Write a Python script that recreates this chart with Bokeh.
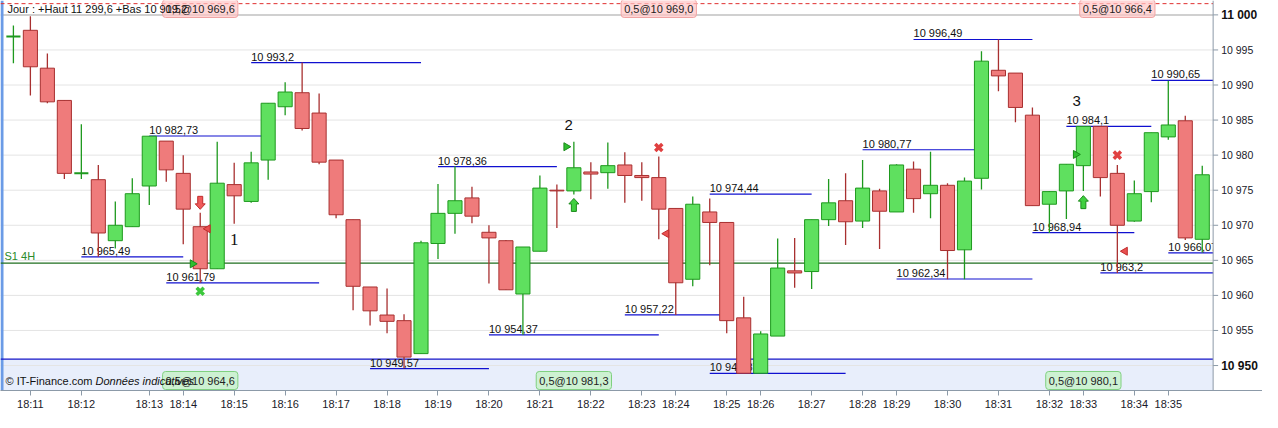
from bokeh.plotting import figure
from bokeh.models import ColumnDataSource, FixedTicker
from bokeh.core.properties import value
from bokeh.embed import file_html
from bokeh.resources import INLINE

# one-tick candles, 18:11 -> 18:35
opens = [10996.9, 10997.8, 10992.4, 10987.8, 10977.4, 10976.5, 10967.8, 10969.8, 10975.6, 10982.0,
         10977.4, 10969.8, 10963.8, 10975.8, 10973.4, 10979.3, 10986.9, 10988.9, 10986.0, 10979.3,
         10970.8, 10961.2, 10957.2, 10956.4, 10951.7, 10967.4, 10971.7, 10973.9, 10969.0, 10967.8,
         10960.2, 10966.3, 10975.0, 10974.9, 10977.6, 10977.5, 10978.6, 10977.1, 10976.8, 10972.4,
         10962.3, 10971.9, 10970.4, 10956.8, 10948.9, 10954.2, 10963.5, 10963.4, 10970.8, 10973.5,
         10970.6, 10974.9, 10971.9, 10978.0, 10974.5, 10975.7, 10966.5, 10976.7, 10992.1, 10991.7,
         10985.7, 10973.0, 10974.9, 10978.5, 10984.1, 10977.4, 10970.6, 10974.8, 10982.6, 10984.9,
         10968.0]
closes = [10996.9, 10992.6, 10987.6, 10977.4, 10977.4, 10968.9, 10970.0, 10974.5, 10982.7, 10977.9,
          10972.3, 10963.8, 10976.0, 10974.2, 10978.9, 10987.4, 10989.0, 10983.8, 10979.0, 10971.5,
          10961.3, 10957.8, 10956.3, 10951.2, 10967.5, 10971.7, 10973.5, 10971.3, 10968.2, 10960.8,
          10966.9, 10975.3, 10974.9, 10978.2, 10977.3, 10978.5, 10977.1, 10976.8, 10972.3, 10961.8,
          10973.0, 10970.4, 10956.4, 10948.9, 10954.5, 10963.9, 10963.2, 10970.8, 10973.2, 10970.5,
          10975.3, 10972.0, 10978.6, 10973.8, 10975.7, 10966.4, 10976.3, 10993.4, 10991.3, 10986.8,
          10972.8, 10974.8, 10978.7, 10984.1, 10976.8, 10970.0, 10974.5, 10983.2, 10984.3, 10968.2,
          10977.2]
highs = [10998.5, 10999.8, 10994.5, 10987.8, 10984.4, 10978.6, 10973.4, 10976.7, 10982.7, 10982.0,
         10980.0, 10971.8, 10981.9, 10978.9, 10980.5, 10987.4, 10990.4, 10993.2, 10988.8, 10979.3,
         10970.8, 10961.2, 10961.0, 10957.3, 10967.8, 10975.9, 10978.4, 10975.5, 10970.0, 10967.9,
         10966.9, 10977.1, 10975.8, 10981.9, 10979.0, 10981.8, 10980.4, 10979.0, 10979.8, 10972.4,
         10974.1, 10973.8, 10970.4, 10959.8, 10954.9, 10968.1, 10968.2, 10970.8, 10976.6, 10977.4,
         10979.3, 10975.2, 10978.7, 10979.1, 10980.5, 10976.0, 10976.8, 10994.8, 10996.5, 10991.7,
         10986.8, 10974.9, 10978.7, 10984.1, 10984.1, 10978.6, 10976.4, 10983.2, 10990.6, 10985.6,
         10978.5]
lows = [10993.1, 10988.5, 10987.4, 10976.6, 10976.6, 10965.5, 10966.7, 10969.8, 10972.9, 10976.2,
        10967.3, 10961.8, 10963.8, 10970.2, 10973.2, 10976.5, 10985.7, 10983.5, 10978.7, 10971.0,
        10957.9, 10955.7, 10954.6, 10949.6, 10951.7, 10965.2, 10968.8, 10970.3, 10961.7, 10960.8,
        10954.4, 10966.3, 10969.6, 10974.4, 10973.7, 10975.2, 10973.2, 10973.5, 10968.0, 10957.2,
        10961.3, 10964.3, 10954.6, 10948.9, 10948.9, 10954.2, 10961.1, 10960.9, 10969.9, 10967.2,
        10969.6, 10966.6, 10971.9, 10971.8, 10971.0, 10962.3, 10962.3, 10975.1, 10989.1, 10984.7,
        10972.8, 10968.9, 10970.9, 10974.9, 10974.1, 10963.2, 10970.5, 10973.3, 10982.2, 10967.9,
        10966.1]

tick_idx = [1, 4, 8, 10, 13, 16, 19, 22, 25, 28, 31, 34, 37, 39, 42, 44, 47, 50, 52, 55, 58, 61, 63, 66, 68]
tick_labels = ["18:11", "18:12", "18:13", "18:14", "18:15", "18:16", "18:17", "18:18", "18:19",
               "18:20", "18:21", "18:22", "18:23", "18:24", "18:25", "18:26", "18:27", "18:28",
               "18:29", "18:30", "18:31", "18:32", "18:33", "18:34", "18:35"]
price_ticks = [10950, 10955, 10960, 10965, 10970, 10975, 10980, 10985, 10990, 10995, 11000]
bold_ticks = [10950, 11000]

# extremes drawn as short horizontal levels
lvl_price = [10993.2, 10982.73, 10965.49, 10961.79, 10978.36, 10954.37, 10949.57, 10974.44, 10957.22,
             10948.87, 10980.77, 10996.49, 10962.34, 10984.1, 10968.94, 10963.2, 10990.65, 10966.07]
lvl_start = [14, 8, 4, 9, 25, 28, 21, 41, 36, 41, 50, 53, 52, 62, 60, 64, 67, 68]
lvl_end = [24, 15, 10, 18, 32, 38, 28, 47, 42, 49, 57, 60, 60, 67, 66, 72, 72, 72]
lvl_text = ["10 993,2", "10 982,73", "10 965,49", "10 961,79", "10 978,36", "10 954,37", "10 949,57",
            "10 974,44", "10 957,22", "10 948,87", "10 980,77", "10 996,49", "10 962,34", "10 984,1",
            "10 968,94", "10 963,2", "10 990,65", "10 966,07"]

s1_level = 10964.6
zone_top = 10950.9
day_line = 11001.6
header = "Jour : +Haut 11 299,6 +Bas 10 919,2"

sell_idx = [11, 38, 65]
sell_text = ["0,5@10 969,6", "0,5@10 969,0", "0,5@10 966,4"]
buy_idx = [11, 33, 63]
buy_text = ["0,5@10 964,6", "0,5@10 981,3", "0,5@10 980,1"]

down_arrow_idx, down_arrow_y = [11], [10973.2]
up_arrow_idx, up_arrow_y = [33, 63], [10972.9, 10973.3]
green_x_idx, green_x_y = [11], [10960.6]
red_x_idx, red_x_y = [38, 65], [10981.1, 10980.0]
right_tri_idx, right_tri_y = [10.55, 32.55, 62.55], [10964.5, 10981.2, 10980.1]
left_tri_idx, left_tri_y = [11.45, 38.45, 65.45], [10969.5, 10968.8, 10966.3]
wave_text = ["1", "2", "3"]
wave_idx = [13.0, 32.7, 62.6]
wave_y = [10967.9, 10984.3, 10987.7]

RED_F, RED_L = "#ef7b7b", "#a83030"
GRN_F, GRN_L = "#5fe05f", "#1e991e"
AXIS_C = "#8c9aa8"
FONT = value("Liberation Sans")

W, H = 1262, 412
FRAME_H = 390
x0, axis_x = -0.76, 70.64
px_x = 1228 / 1278 * W / (axis_x - x0)    # px per candle
x_end = x0 + W / px_x
y0, y1 = 10946.44, 11002.05
ppx = 1 / px_x                       # one pixel in x data units
ppy = (y1 - y0) / FRAME_H            # one pixel in price units

p = figure(width=W, height=H, x_range=(x0, x_end), y_range=(y0, y1),
           output_backend="svg", toolbar_location=None, y_axis_location=None,
           min_border_left=0, min_border_top=0, min_border_right=0, min_border_bottom=0)
p.outline_line_color = None
p.background_fill_color = "white"
p.grid.grid_line_color = None

# time axis
p.xaxis.ticker = FixedTicker(ticks=tick_idx)
p.xaxis.major_label_overrides = {t: s for t, s in zip(tick_idx, tick_labels)}
p.xaxis.axis_line_color = AXIS_C
p.xaxis.major_tick_line_color = AXIS_C
p.xaxis.minor_tick_line_color = None
p.xaxis.major_tick_in = 0
p.xaxis.major_tick_out = 5
p.xaxis.major_label_standoff = 2
p.xaxis.major_label_text_font = "Liberation Sans"
p.xaxis.major_label_text_font_size = "11px"
p.xaxis.major_label_text_color = "#1a1a2a"

# background zone, grid, left strip
p.quad(left=x0, right=axis_x, bottom=y0, top=zone_top, fill_color="#e8eefb", line_color=None)
p.segment(x0=[x0] * len(price_ticks), y0=price_ticks, x1=[axis_x] * len(price_ticks), y1=price_ticks,
          line_color=["#d0d0d0" if t == price_ticks[-1] else "#e4e4e4" for t in price_ticks],
          line_width=[2 if t == price_ticks[-1] else 1 for t in price_ticks])
p.quad(left=x0, right=x0 + 3 * ppx, bottom=y0, top=y1, fill_color="#6b9be6", line_color=None)

p.segment(x0=[x0], y0=[zone_top], x1=[axis_x], y1=[zone_top], line_color="#1414c8", line_width=1.2)
p.segment(x0=[x0], y0=[day_line], x1=[axis_x], y1=[day_line], line_color="#e03030", line_dash="4 3")
p.segment(x0=[x0], y0=[s1_level], x1=[axis_x], y1=[s1_level], line_color="#1f6f1f", line_width=1.2)

lv = ColumnDataSource(dict(y=lvl_price, x0=lvl_start, x1=lvl_end, t=lvl_text))
p.segment(x0="x0", y0="y", x1="x1", y1="y", source=lv, line_color="#1010d0", line_width=1.2)
p.text(x="x0", y="y", text="t", source=lv, text_font=FONT, text_font_size="11px",
       text_baseline="bottom", text_align="left", text_color="#111111")

# candles
idx = list(range(len(opens)))
up = [c >= o for o, c in zip(opens, closes)]
cs = ColumnDataSource(dict(
    x=idx, hi=highs, lo=lows,
    top=[max(o, c) for o, c in zip(opens, closes)],
    bot=[min(o, c) for o, c in zip(opens, closes)],
    fill=[GRN_F if u else RED_F for u in up],
    line=[GRN_L if u else RED_L for u in up],
    lw=[2 if abs(o - c) < 0.05 else 1 for o, c in zip(opens, closes)],
))
p.segment(x0="x", y0="lo", x1="x", y1="hi", source=cs, line_color="line", line_width=1.3)
p.vbar(x="x", width=0.83, top="top", bottom="bot", source=cs,
       fill_color="fill", line_color="line", line_width="lw")

# signals
arrow_shape = [(0, -6.5), (5, -1), (2.5, -1), (2.5, 6.5), (-2.5, 6.5), (-2.5, -1), (-5, -1)]
def arrows(xs, ys, pointing_up, fill, line):
    sgn = 1 if pointing_up else -1
    px = [[x + dx * ppx for dx, dy in arrow_shape] for x in xs]
    py = [[y - sgn * dy * ppy for dx, dy in arrow_shape] for y in ys]
    p.patches(px, py, fill_color=fill, line_color=line, line_width=1)

arrows(down_arrow_idx, down_arrow_y, False, "#f05a5a", "#c02c2c")
arrows(up_arrow_idx, up_arrow_y, True, "#3fd03f", "#1a8a1a")
p.scatter(green_x_idx, green_x_y, marker="x", size=10, line_color="#3cc83c", line_width=3.5)
p.scatter(red_x_idx, red_x_y, marker="x", size=10, line_color="#e04040", line_width=3.5)
p.scatter(right_tri_idx, right_tri_y, marker="triangle", angle=-1.5708, size=8,
          fill_color="#2fbf2f", line_color="#1a8a1a")
p.scatter(left_tri_idx, left_tri_y, marker="triangle", angle=1.5708, size=8,
          fill_color="#e85050", line_color="#c02c2c")
p.text(wave_idx[:1], wave_y[:1], text=wave_text[:1], text_font=value("Liberation Serif"),
       text_font_size="17px", text_align="center", text_baseline="middle", text_color="#111111")
p.text(wave_idx[1:], wave_y[1:], text=wave_text[1:], text_font=FONT,
       text_font_size="15px", text_align="center", text_baseline="middle", text_color="#111111")

# order boxes, then the header and footer texts over them
top_y = y1 - 8 * ppy
foot_y = y0 + 10 * ppy
p.text(sell_idx, [top_y] * len(sell_idx), text=sell_text, text_font=FONT, text_font_size="11px",
       text_align="center", text_baseline="middle", text_color="#222222",
       background_fill_color="#ffc4c4", background_fill_alpha=0.7,
       border_line_color="#f0a4a4", padding=3, border_radius=3)
p.text(buy_idx, [foot_y] * len(buy_idx), text=buy_text, text_font=FONT, text_font_size="11px",
       text_align="center", text_baseline="middle", text_color="#222222",
       background_fill_color="#c4f2c4", background_fill_alpha=0.75,
       border_line_color="#80d080", padding=3, border_radius=3)

p.text([x0 + 7 * ppx], [top_y], text=[header], text_font=FONT, text_font_size="11px",
       text_baseline="middle", text_align="left", text_color="#111111")
p.text([x0 + 4 * ppx], [s1_level], text=["S1 4H"], text_font=FONT, text_font_size="11px",
       text_baseline="bottom", text_align="left", text_color="#2a8a2a", y_offset=-1)
p.text([x0 + 5 * ppx], [foot_y], text=["\u00a9 IT-Finance.com"], text_font=FONT, text_font_size="11px",
       text_baseline="middle", text_align="left", text_color="#111111")
p.text([x0 + 95 * ppx], [foot_y], text=["Donn\u00e9es indicatives"], text_font=FONT, text_font_size="11px",
       text_font_style="italic", text_baseline="middle", text_align="left", text_color="#111111")

# price scale drawn at the right edge of the chart area
p.quad(left=axis_x, right=x_end, bottom=y0, top=y1, fill_color="white", line_color=None)
p.segment(x0=[axis_x], y0=[y0], x1=[axis_x], y1=[y1], line_color=AXIS_C, line_width=1)
n = len(price_ticks)
p.segment(x0=[axis_x] * n, y0=price_ticks, x1=[axis_x + 5 * ppx] * n, y1=price_ticks, line_color=AXIS_C)
reg = [t for t in price_ticks if t not in bold_ticks]
p.text([axis_x + 8 * ppx] * len(reg), reg, text=[f"{t // 1000} {t % 1000:03d}" for t in reg],
       text_font=FONT, text_font_size="10.5px", text_baseline="middle", text_align="left",
       text_color="#1a1a2a")
p.text([axis_x + 8 * ppx] * len(bold_ticks), bold_ticks,
       text=[f"{t // 1000} {t % 1000:03d}" for t in bold_ticks],
       text_font=FONT, text_font_size="12px", text_font_style="bold", text_baseline="middle",
       text_align="left", text_color="#111111")

open("out.html", "w").write(file_html(p, INLINE))
